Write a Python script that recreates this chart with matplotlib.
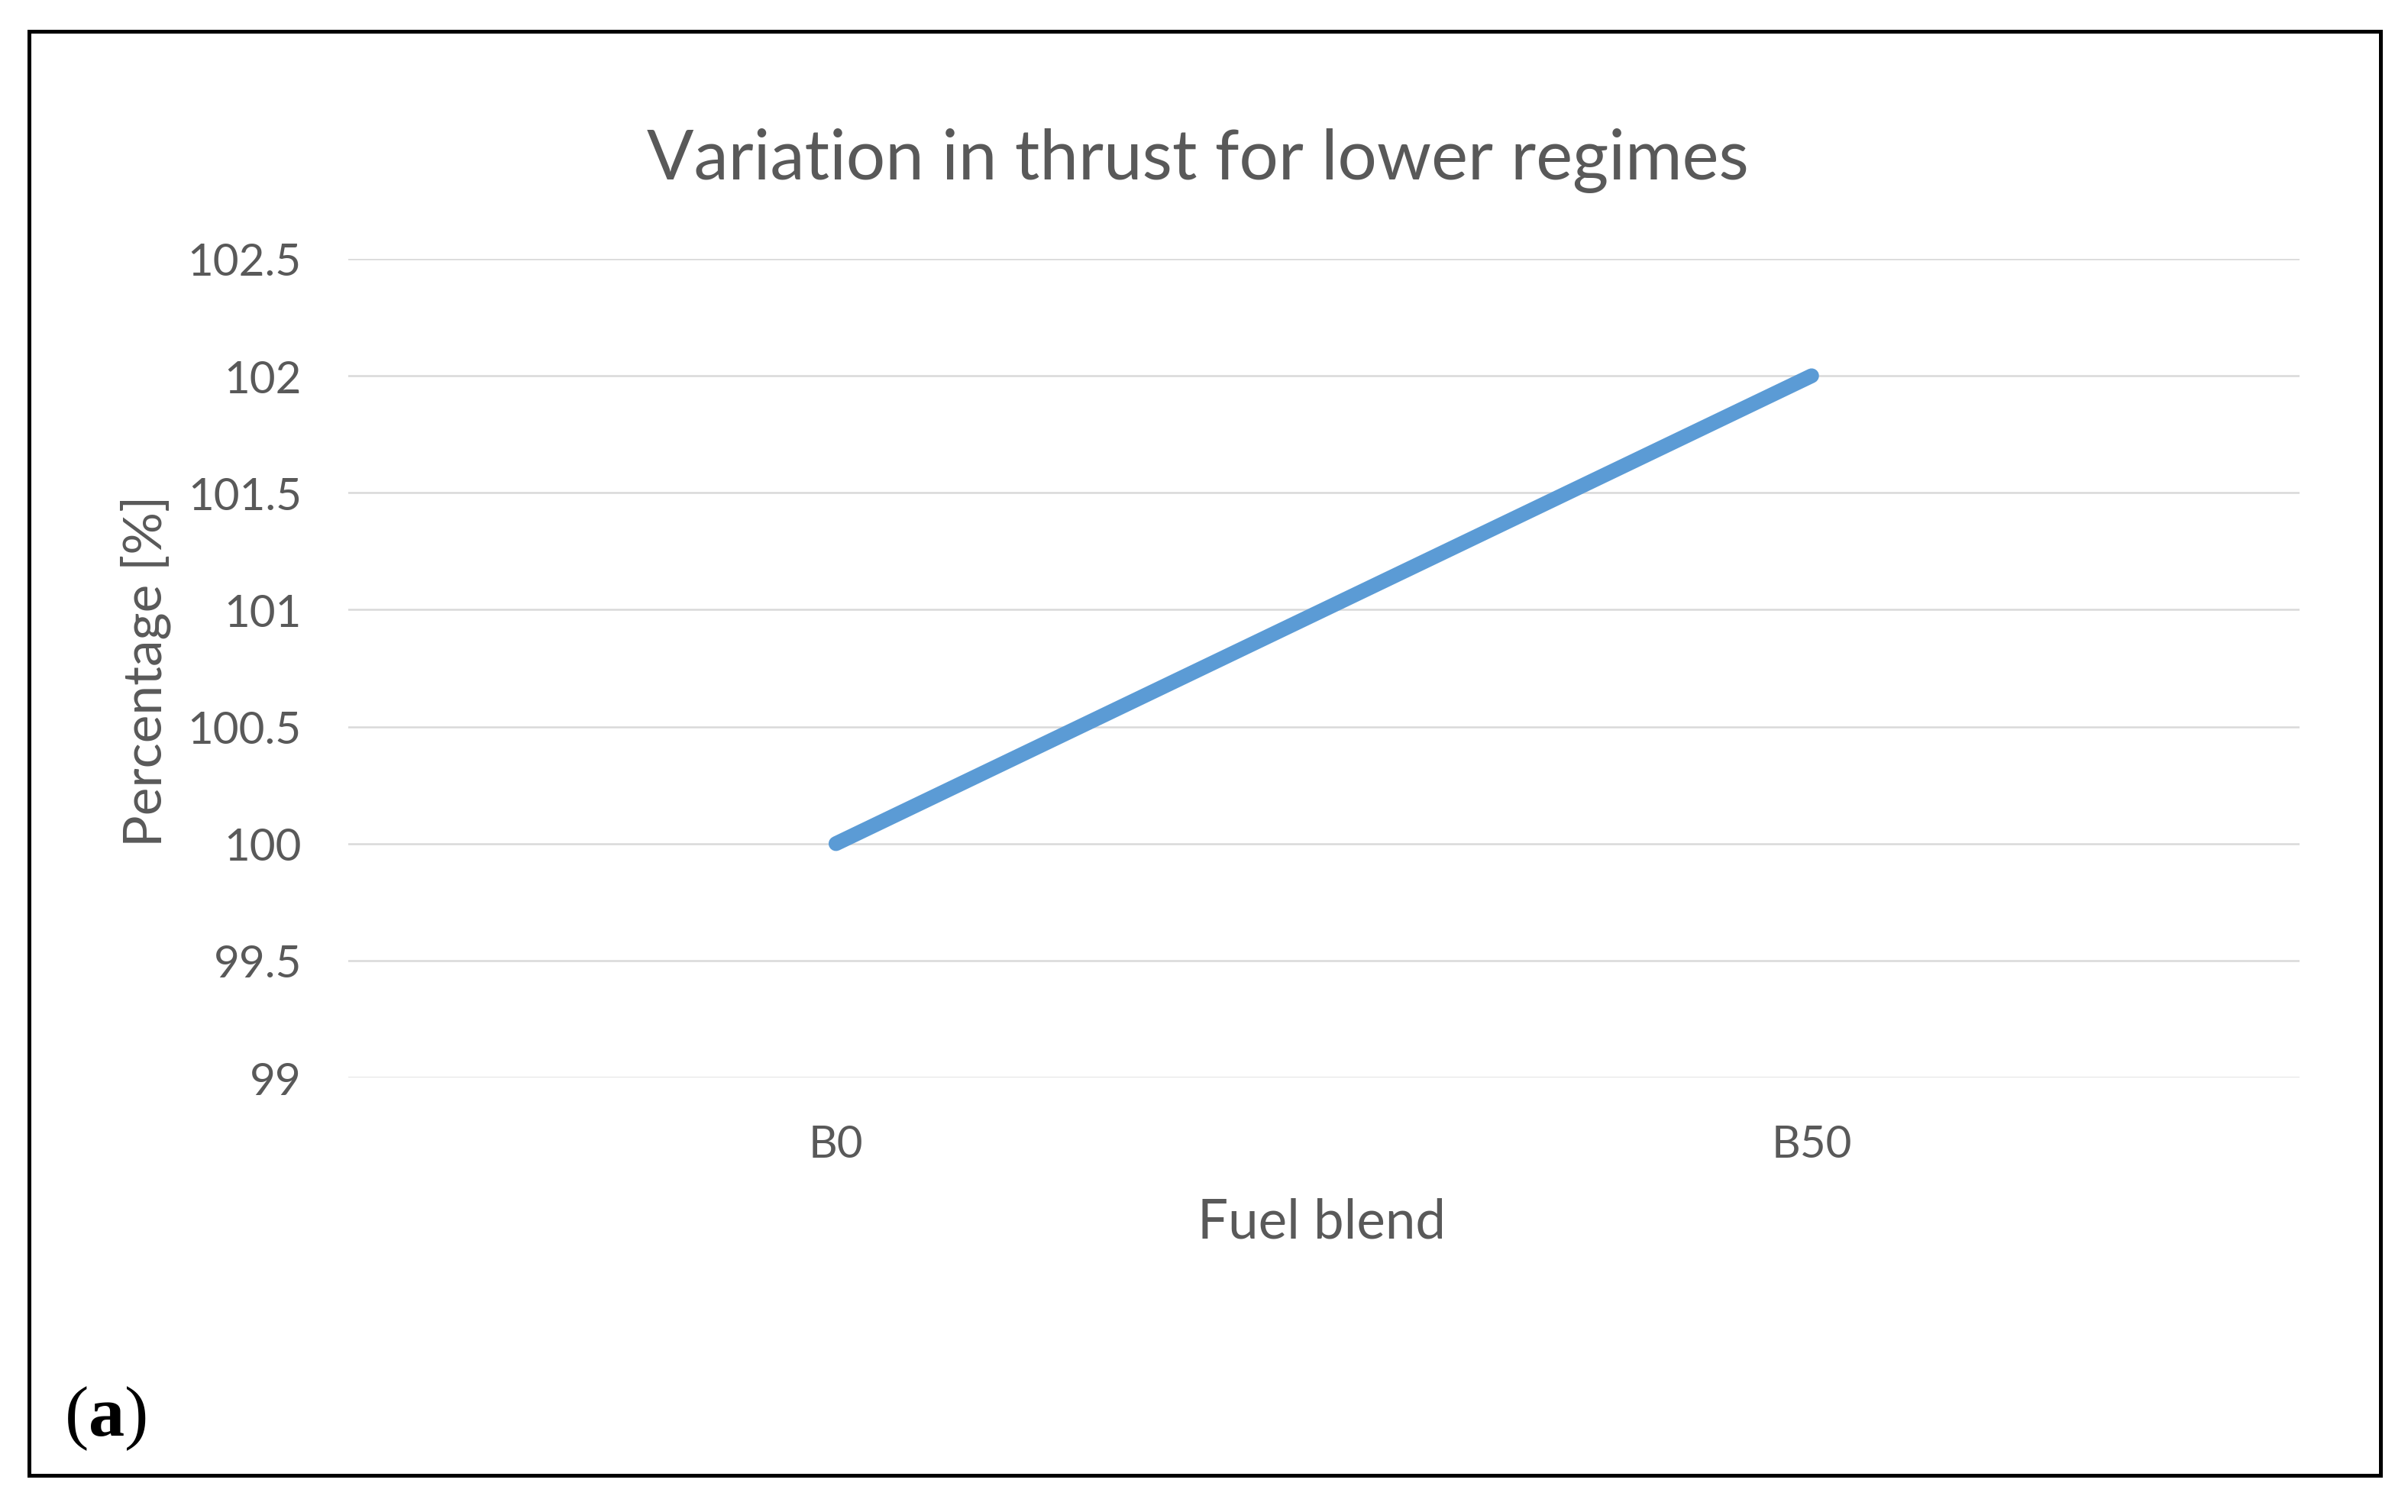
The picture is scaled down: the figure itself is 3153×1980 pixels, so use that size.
import matplotlib.pyplot as plt
from matplotlib.patches import Rectangle

# data
blends = ["B0", "B50"]
thrust_pct = [100, 102]
yticks = [99, 99.5, 100, 100.5, 101, 101.5, 102, 102.5]
ytick_labels = ["99", "99.5", "100", "100.5", "101", "101.5", "102", "102.5"]

txt = "#595959"
plt.rcParams['font.family'] = ['Lato', 'DejaVu Sans']
plt.rcParams['mathtext.fontset'] = 'custom'
plt.rcParams['mathtext.rm'] = 'Liberation Serif'
plt.rcParams['mathtext.bf'] = 'Liberation Serif:bold'

fig = plt.figure(figsize=(15.765, 9.905), dpi=200)
ax = fig.add_axes([0.1446, 0.2872, 0.8103, 0.5412])

x = range(len(blends))
ax.plot(x, thrust_pct, color="#5B9BD5", lw=7, solid_capstyle="round", zorder=3)

ax.set_xlim(-0.5, len(blends) - 0.5)
ax.set_ylim(yticks[0], yticks[-1])
ax.set_yticks(yticks)
ax.set_yticklabels(ytick_labels)
ax.set_xticks(list(x))
ax.set_xticklabels(blends)
ax.grid(axis="y", color="#D9D9D9", lw=0.9)
ax.set_axisbelow(True)
for s in ax.spines.values():
    s.set_visible(False)
ax.tick_params(axis="both", length=0, labelsize=21, labelcolor=txt)
ax.tick_params(axis="y", pad=22)
ax.tick_params(axis="x", pad=22)

fig.text(0.4975, 0.8935, "Variation in thrust for lower regimes", ha="center", va="center",
         fontsize=32.7, color=txt)
fig.text(0.0606, 0.5563, "Percentage [%]", ha="center", va="center", rotation=90,
         fontsize=25, color=txt)
fig.text(0.549, 0.1918, "Fuel blend", ha="center", va="center", fontsize=25.5, color=txt)
fig.text(0.0266, 0.051, r"($\mathbf{a}$)", ha="left", va="baseline", fontsize=34,
         family="Liberation Serif", color="black")

fig.patches.append(Rectangle((0.01205, 0.02423), 0.97653, 0.95457, transform=fig.transFigure,
                             fill=False, edgecolor="black", lw=1.8))

fig.savefig("out.png", dpi=200, facecolor="white")
